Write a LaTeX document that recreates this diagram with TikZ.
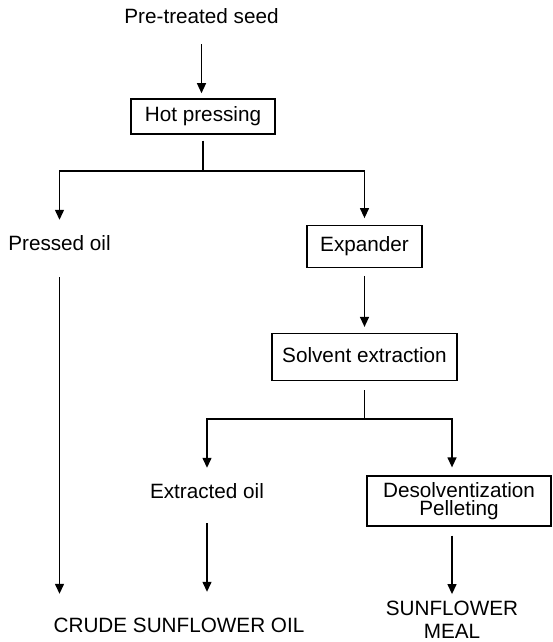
\documentclass[tikz,border=0pt]{standalone}
\usepackage{fontspec}
\setmainfont{Liberation Sans}
\usetikzlibrary{positioning,arrows.meta}

\begin{document}
\begin{tikzpicture}[x=1pt, y=-1pt,
	  textfont/.style={font=\fontsize{20.7pt}{23pt}\selectfont, inner sep=0pt},
	  oneline/.style={textfont, text height=15pt, text depth=4.5pt},
	  frame/.style={draw, line width=1.3pt},
	  flow/.style={line width=1.3pt, -{Triangle[width=9pt,length=10pt]}},
	  link/.style={line width=1.3pt},
	]
	
	\useasboundingbox (0,0) rectangle (552,642);
	
	% Feed and hot pressing
	\node[oneline] (seed) at (201.5,18.75) {Pre-treated seed};
	\node[frame, oneline, minimum width=144pt, minimum height=35pt, below=69.5pt of seed, xshift=1.5pt] (hot) {Hot pressing};
	\coordinate (split1) at (203,171);
	
	% Pressed oil branch
	\node[oneline] (pressed) at (59.5,244.75) {Pressed oil};
	
	% Expander and extraction branch
	\node[frame, oneline, minimum width=115pt, minimum height=41.5pt] (expander) at (364.5,246.5) {Expander};
	\node[frame, oneline, minimum width=185pt, minimum height=47pt, below=65pt of expander] (solvent) {Solvent extraction};
	\coordinate (split2) at (364.5,419);
	
	% Extraction products
	\node[oneline] (extracted) at (207,492.75) {Extracted oil};
	\node[frame, textfont, align=center, minimum width=184pt, minimum height=50pt, font=\fontsize{20.7pt}{18.5pt}\selectfont] (deso) at (459,501) {Desolventization\\Pelleting};
	
	% Final products
	\node[oneline] (crude) at (179,626.75) {CRUDE SUNFLOWER OIL};
	\node[textfont, align=center] (meal) at (452,619.5) {SUNFLOWER\\MEAL};
	
	% Connectors
	\draw[flow, shorten <=15.5pt, shorten >=5pt] (seed.south) -- (seed.south |- hot.north);
	\draw[link, shorten <=6pt] (hot.south) -- (split1);
	\draw[flow, shorten >=15pt] (split1) -| (pressed.north);
	\draw[flow, shorten >=7pt] (split1) -| (expander.north);
	\draw[flow, shorten <=22.5pt, shorten >=23pt] (pressed.south) -- (pressed.south |- crude.north);
	\draw[flow, shorten <=8pt, shorten >=6pt] (expander.south) -- (solvent.north);
	\draw[link, shorten <=9pt] (solvent.south) -- (split2);
	\draw[flow, shorten >=15pt] (split2) -| (extracted.north);
	\draw[flow, shorten >=8pt] (split2) -| (meal.north |- deso.north);
	\draw[flow, shorten <=20.5pt, shorten >=25pt] (extracted.south) -- (extracted.south |- crude.north);
	\draw[flow, shorten <=9pt, shorten >=6.5pt] (meal.north |- deso.south) -- (meal.north);
	
\end{tikzpicture}
\end{document}
